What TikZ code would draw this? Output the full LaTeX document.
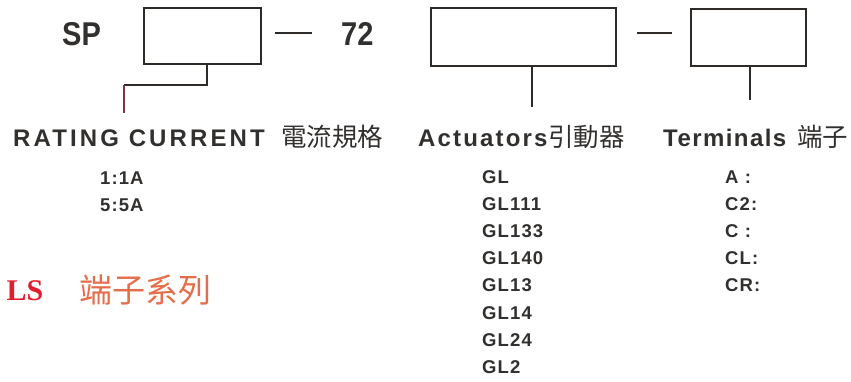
\documentclass[tikz,border=0pt]{standalone}
\usepackage{fontspec}
\setmainfont{Liberation Sans}
\newfontfamily\cjk{Noto Sans CJK TC}
\newfontfamily\redserif{Liberation Serif}
\definecolor{linec}{RGB}{45,42,40}
\definecolor{textc}{RGB}{50,48,46}
\definecolor{redline}{RGB}{125,55,65}
\definecolor{redtxt}{RGB}{225,30,45}
\definecolor{orangetxt}{RGB}{228,110,75}
\tikzset{
  codebox/.style={draw=linec, line width=1.8pt, inner sep=0pt, anchor=north west},
  conn/.style={draw=linec, line width=1.8pt},
  bigtxt/.style={anchor=base west, inner sep=0pt, text=textc, font=\fontsize{33}{35}\selectfont\bfseries},
  hdr/.style={anchor=base west, inner sep=0pt, text=textc},
  hdrcjk/.style={anchor=base west, inner sep=0pt, text=textc, font=\cjk\fontsize{25.5}{27}\selectfont},
  item/.style={anchor=base west, inner sep=0pt, text=textc, font=\fontsize{18.5}{20}\selectfont\bfseries\addfontfeatures{LetterSpace=6}},
}
\begin{document}
\begin{tikzpicture}[x=1pt,y=-1pt]
\useasboundingbox (0,0) rectangle (851,381);
% top code line
\node[bigtxt] (sp) at (62,45) {\scalebox{0.88}[1]{SP}};
\node[codebox, minimum width=117pt, minimum height=56pt] (b1) at (143,7) {};
\draw[conn] (275,33) -- (312,33);
\node[bigtxt] (n72) at (341,45) {\scalebox{0.88}[1]{72}};
\node[codebox, minimum width=185pt, minimum height=58pt] (b2) at (430,7) {};
\draw[conn] (637,33) -- (672,33);
\node[codebox, minimum width=115pt, minimum height=57pt] (b3) at (690,8) {};
% headers
\node[hdr, font=\fontsize{24}{26}\selectfont\bfseries\addfontfeatures{LetterSpace=13}] (rc) at (13,146) {RATING CURRENT};
\node[hdrcjk] (rccjk) at (281,146) {電流規格};
\node[hdr, font=\fontsize{24}{26}\selectfont\bfseries\addfontfeatures{LetterSpace=9}] (act) at (418,146) {Actuators};
\node[hdrcjk] (actcjk) at (548,146) {引動器};
\node[hdr, font=\fontsize{24}{26}\selectfont\bfseries\addfontfeatures{LetterSpace=6}] (ter) at (663,146) {Terminals};
\node[hdrcjk] (tercjk) at (797,146) {端子};
% connectors
\coordinate (c1a) at (207,63);
\coordinate (c1b) at (207,85);
\coordinate (c1c) at (124,85);
\coordinate (c1d) at (124,113);
\draw[conn] (c1a) -- (c1b) -- (c1c);
\draw[draw=redline, line width=1.8pt] (c1c) -- (c1d);
\coordinate (c2a) at (532,65);
\coordinate (c2b) at (532,107);
\draw[conn] (c2a) -- (c2b);
\coordinate (c3a) at (750,65);
\coordinate (c3b) at (750,100);
\draw[conn] (c3a) -- (c3b);
% rating list
\node[item] (r1) at (100,184) {1:1A};
\node[item] (r2) at (100,211) {5:5A};
% actuator list
\node[item] (a1) at (482,183) {GL};
\node[item] (a2) at (482,210.2) {GL111};
\node[item] (a3) at (482,237.4) {GL133};
\node[item] (a4) at (482,264.6) {GL140};
\node[item] (a5) at (482,291.8) {GL13};
\node[item] (a6) at (482,319) {GL14};
\node[item] (a7) at (482,346.2) {GL24};
\node[item] (a8) at (482,373.4) {GL2};
% terminal list
\node[item] (t1) at (725,183) {A :};
\node[item] (t2) at (725,210.2) {C2:};
\node[item] (t3) at (725,237.4) {C :};
\node[item] (t4) at (725,264.6) {CL:};
\node[item] (t5) at (725,291.8) {CR:};
% red series title
\node[anchor=base east, inner sep=0pt, text=redtxt, font=\redserif\fontsize{30}{32}\selectfont\bfseries] (als) at (43.5,300) {LS};
\node[anchor=base west, inner sep=0pt, text=orangetxt, font=\cjk\fontsize{33}{35}\selectfont] (series) at (79,302) {端子系列};
\end{tikzpicture}
\end{document}
